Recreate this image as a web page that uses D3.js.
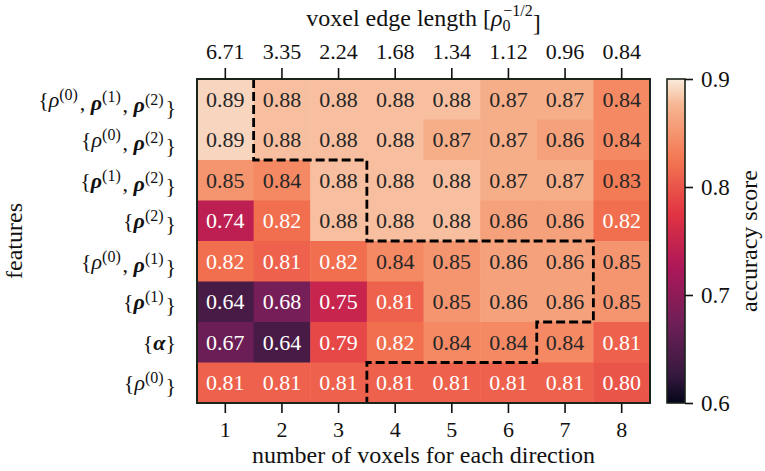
<!DOCTYPE html>
<html>
<head>
<meta charset="utf-8">
<script src="https://cdn.jsdelivr.net/npm/d3@7"></script>
<style>
  body { margin: 0; background: #fff; }
</style>
</head>
<body>
<div id="chart"></div>
<script>
// voxels per direction (bottom axis) and matching edge length (top axis)
var nVoxels = [1, 2, 3, 4, 5, 6, 7, 8];
var edgeLengths = ["6.71", "3.35", "2.24", "1.68", "1.34", "1.12", "0.96", "0.84"];

// feature sets, "0" = rho^(0), "1"/"2" = bold rho^(k), "a" = bold alpha
var featureSets = [
    ["0", "1", "2"],
    ["0", "2"],
    ["1", "2"],
    ["2"],
    ["0", "1"],
    ["1"],
    ["a"],
    ["0"]
];

var accuracy = [
    [0.89, 0.88, 0.88, 0.88, 0.88, 0.87, 0.87, 0.84],
    [0.89, 0.88, 0.88, 0.88, 0.87, 0.87, 0.86, 0.84],
    [0.85, 0.84, 0.88, 0.88, 0.88, 0.87, 0.87, 0.83],
    [0.74, 0.82, 0.88, 0.88, 0.88, 0.86, 0.86, 0.82],
    [0.82, 0.81, 0.82, 0.84, 0.85, 0.86, 0.86, 0.85],
    [0.64, 0.68, 0.75, 0.81, 0.85, 0.86, 0.86, 0.85],
    [0.67, 0.64, 0.79, 0.82, 0.84, 0.84, 0.84, 0.81],
    [0.81, 0.81, 0.81, 0.81, 0.81, 0.81, 0.81, 0.80]
];

// dashed boundary, in grid (column, row) corner units
var boundary = [[1, 0], [1, 2], [3, 2], [3, 4], [7, 4], [7, 6], [6, 6], [6, 7], [3, 7], [3, 8]];

var cbarTicks = [0.6, 0.7, 0.8, 0.9];

// seaborn "rocket" colormap anchors
var rocketStops = [0, 1/12, 3/12, 5/12, 7/12, 9/12, 11/12, 1];
var rocketColors = ["#03051a", "#35193e", "#701f57", "#ad1759", "#e13342", "#f37651", "#f6b48f", "#faebdd"];

var FONT = "'Liberation Serif', 'Times New Roman', serif";
var W = 765, H = 471;
var pL = 197, pR = 650, pT = 79, pB = 403;

var svg = d3.select("#chart").append("svg")
    .attr("width", W)
    .attr("height", H);

var rocket = d3.scaleLinear().domain(rocketStops).range(rocketColors).interpolate(d3.interpolateRgb);
var color = d3.scaleLinear().domain([0.6, 0.9]).range([0, 1]).clamp(true);
var fill = v => rocket(color(v));

var x = d3.scaleBand().domain(d3.range(nVoxels.length)).range([pL, pR]);
var y = d3.scaleBand().domain(d3.range(featureSets.length)).range([pT, pB]);
var gx = d3.scaleLinear().domain([0, nVoxels.length]).range([pL, pR]);
var gy = d3.scaleLinear().domain([0, featureSets.length]).range([pT, pB]);

var cells = [];
accuracy.forEach((row, i) => row.forEach((v, j) => cells.push({i: i, j: j, v: v})));

svg.append("g").selectAll("rect").data(cells)
    .enter().append("rect")
    .attr("x", d => x(d.j))
    .attr("y", d => y(d.i))
    .attr("width", x.bandwidth() + 0.5)
    .attr("height", y.bandwidth() + 0.5)
    .attr("fill", d => fill(d.v));

svg.append("g").selectAll("text").data(cells)
    .enter().append("text")
    .attr("x", d => x(d.j) + x.bandwidth() / 2)
    .attr("y", d => y(d.i) + y.bandwidth() / 2)
    .attr("dy", "0.35em")
    .attr("text-anchor", "middle")
    .style("font-size", "22px")
    .style("fill", d => d.v > 0.825 ? "#262626" : "#ffffff")
    .text(d => d.v.toFixed(2));

// dashed boundary
svg.append("path")
    .datum(boundary)
    .attr("d", d3.line().x(d => gx(d[0])).y(d => gy(d[1])))
    .attr("fill", "none")
    .attr("stroke", "#000")
    .attr("stroke-width", 2.8)
    .attr("stroke-dasharray", "9,4");

// frame
svg.append("rect")
    .attr("x", pL).attr("y", pT)
    .attr("width", pR - pL).attr("height", pB - pT)
    .attr("fill", "none").attr("stroke", "#1a241a").attr("stroke-width", 2);

// axes
var xb = d3.scaleBand().domain(nVoxels).range([pL, pR]);
var xt = d3.scaleBand().domain(edgeLengths).range([pL, pR]);

var axB = svg.append("g")
    .attr("transform", "translate(0," + pB + ")")
    .call(d3.axisBottom(xb).tickSize(10).tickPadding(8));
var axT = svg.append("g")
    .attr("transform", "translate(0," + pT + ")")
    .call(d3.axisTop(xt).tickSize(11).tickPadding(9));
[axB, axT].forEach(function(a) {
    a.select(".domain").remove();
    a.selectAll(".tick line").attr("stroke", "#111").attr("stroke-width", 1.6);
    a.selectAll(".tick text").style("font-size", "22px");
});

// row labels with math markup
var rowLab = svg.append("g").selectAll("text").data(featureSets)
    .enter().append("text")
    .attr("x", 176)
    .attr("y", (d, i) => y(i) + y.bandwidth() / 2)
    .attr("dy", "0.35em")
    .attr("text-anchor", "end")
    .style("font-size", "22px");

rowLab.each(function(terms) {
    var t = d3.select(this);
    t.append("tspan").text("{");
    terms.forEach(function(k, n) {
        if (n > 0) t.append("tspan").text(", ");
        var sym = t.append("tspan").style("font-style", "italic");
        if (k === "a") {
            sym.style("font-weight", "bold").text("α");
        } else {
            sym.text("ρ");
            if (k !== "0") sym.style("font-weight", "bold");
            t.append("tspan").attr("dy", "-0.45em").style("font-size", "16px").text("(" + k + ")");
            t.append("tspan").attr("dy", "0.45em").text("\u200a");
        }
    });
    t.append("tspan").text("}");
});

// axis titles
svg.append("text")
    .attr("x", (pL + pR) / 2).attr("y", 463)
    .attr("text-anchor", "middle")
    .style("font-size", "24px")
    .text("number of voxels for each direction");

var tt = svg.append("text")
    .attr("x", (pL + pR) / 2).attr("y", 26)
    .attr("text-anchor", "middle")
    .style("font-size", "24px");
tt.append("tspan").text("voxel edge length [");
tt.append("tspan").style("font-style", "italic").text("ρ");
tt.append("tspan").attr("dy", "0.3em").style("font-size", "16px").text("0");
tt.append("tspan").attr("dy", "-0.9em").attr("dx", "-0.45em").style("font-size", "16px").text("−1/2");
tt.append("tspan").attr("dy", "0.6em").text("]");

svg.append("text")
    .attr("transform", "translate(22," + ((pT + pB) / 2) + ") rotate(-90)")
    .attr("text-anchor", "middle")
    .style("font-size", "24px")
    .text("features");

// colorbar
var cbL = 667, cbR = 685;
var defs = svg.append("defs");
var grad = defs.append("linearGradient")
    .attr("id", "cbar").attr("x1", 0).attr("y1", 1).attr("x2", 0).attr("y2", 0);
grad.selectAll("stop").data(d3.range(0, 1.0001, 0.02))
    .enter().append("stop")
    .attr("offset", d => d)
    .attr("stop-color", d => rocket(d));

var cy = d3.scaleLinear().domain([0.6, 0.9]).range([pB, pT]);

svg.append("rect")
    .attr("x", cbL).attr("y", pT)
    .attr("width", cbR - cbL).attr("height", pB - pT)
    .attr("fill", "url(#cbar)")
    .attr("stroke", "#1a241a").attr("stroke-width", 1.6);

var axC = svg.append("g")
    .attr("transform", "translate(" + cbR + ",0)")
    .call(d3.axisRight(cy).tickValues(cbarTicks).tickFormat(d3.format(".1f")).tickSize(8).tickPadding(8));
axC.select(".domain").remove();
axC.selectAll(".tick line").attr("stroke", "#111").attr("stroke-width", 1.6);
axC.selectAll(".tick text").style("font-size", "23px");

svg.append("text")
    .attr("transform", "translate(757," + ((pT + pB) / 2) + ") rotate(-90)")
    .attr("text-anchor", "middle")
    .style("font-size", "24px")
    .text("accuracy score");

// one serif face for every label
svg.selectAll("text").style("font-family", FONT);
svg.selectAll("text").filter(function() { return !this.style.fill; }).style("fill", "#111");
</script>
</body>
</html>
